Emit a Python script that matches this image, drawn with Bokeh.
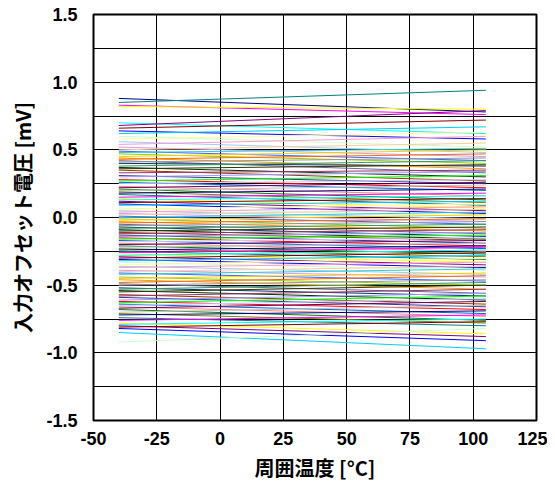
from bokeh.plotting import figure
from bokeh.models import FixedTicker, Range1d, ColumnDataSource, NumeralTickFormatter
from bokeh.embed import file_html
from bokeh.resources import INLINE

# Temperature end points of each trace [°C]
TEMPS = [-40, 105]

# Offset voltage at -40 °C [mV]
VOS_START = [
    0.88, 0.85, 0.83, 0.82, 0.70, 0.68, 0.66, 0.64, 0.62, 0.60,
    0.58, 0.56, 0.54, 0.52, 0.50, 0.49, 0.48, 0.47, 0.45, 0.44,
    0.43, 0.42, 0.41, 0.40, 0.38, 0.37, 0.36, 0.35, 0.33, 0.31,
    0.30, 0.28, 0.27, 0.26, 0.25, 0.23, 0.22, 0.21, 0.20, 0.19,
    0.18, 0.17, 0.15, 0.14, 0.13, 0.12, 0.11, 0.10, 0.09, 0.07,
    0.06, 0.05, 0.04, 0.03, 0.02, 0.01, 0.00, -0.01, -0.02, -0.03,
    -0.04, -0.05, -0.06, -0.07, -0.08, -0.09, -0.10, -0.11, -0.12, -0.13,
    -0.14, -0.15, -0.16, -0.17, -0.18, -0.19, -0.20, -0.21, -0.22, -0.23,
    -0.24, -0.25, -0.26, -0.27, -0.28, -0.29, -0.30, -0.31, -0.32, -0.33,
    -0.35, -0.36, -0.37, -0.39, -0.40, -0.41, -0.42, -0.44, -0.45, -0.46,
    -0.48, -0.49, -0.50, -0.52, -0.53, -0.54, -0.55, -0.57, -0.58, -0.59,
    -0.61, -0.62, -0.63, -0.64, -0.65, -0.66, -0.67, -0.68, -0.70, -0.71,
    -0.72, -0.74, -0.76, -0.78, -0.79, -0.80, -0.81, -0.82, -0.85, -0.92,
]

# Offset voltage at 105 °C [mV]
VOS_END = [
    0.78, 0.94, 0.76, 0.80, 0.62, 0.79, 0.72, 0.58, 0.67, 0.52,
    0.63, 0.48, 0.60, 0.45, 0.55, 0.42, 0.51, 0.40, 0.50, 0.36,
    0.47, 0.33, 0.44, 0.38, 0.42, 0.30, 0.39, 0.27, 0.35, 0.25,
    0.34, 0.22, 0.31, 0.20, 0.28, 0.16, 0.26, 0.13, 0.24, 0.11,
    0.21, 0.09, 0.18, 0.07, 0.16, 0.05, 0.14, 0.03, 0.12, 0.01,
    0.10, -0.01, 0.08, -0.03, 0.06, -0.05, 0.04, -0.08, 0.02, -0.10,
    -0.01, -0.12, -0.03, -0.14, -0.05, -0.16, -0.07, -0.17, -0.09, -0.19,
    -0.11, -0.21, -0.13, -0.23, -0.15, -0.25, -0.17, -0.27, -0.19, -0.29,
    -0.21, -0.31, -0.22, -0.33, -0.24, -0.35, -0.26, -0.37, -0.28, -0.39,
    -0.30, -0.42, -0.33, -0.44, -0.36, -0.47, -0.38, -0.50, -0.41, -0.53,
    -0.43, -0.56, -0.46, -0.58, -0.48, -0.61, -0.50, -0.64, -0.53, -0.66,
    -0.56, -0.68, -0.58, -0.71, -0.60, -0.73, -0.62, -0.76, -0.65, -0.78,
    -0.69, -0.80, -0.72, -0.86, -0.75, -0.88, -0.77, -0.91, -0.97, -0.82,
]

X_TICKS = [-50, -25, 0, 25, 50, 75, 100, 125]
Y_TICKS = [-1.5, -1.0, -0.5, 0.0, 0.5, 1.0, 1.5]
Y_MINOR = [-1.25, -0.75, -0.25, 0.25, 0.75, 1.25]

PALETTE = [
    "#000080", "#008080", "#FF00FF", "#FFFF00", "#00FFFF", "#800080", "#800000", "#0000FF",
    "#00CCFF", "#CCFFCC", "#FFFF99", "#99CCFF", "#FF99CC", "#CC99FF", "#FFCC99", "#3366FF",
    "#33CCCC", "#99CC00", "#FFCC00", "#FF9900", "#FF6600", "#666699", "#969696", "#003366",
    "#339966", "#003300", "#333300", "#993300", "#993366", "#333399", "#9999FF", "#FF0000",
    "#00FF00", "#0066CC", "#CCCCFF", "#FF8080", "#660066", "#008000", "#C0C0C0", "#808000",
]

xs = [list(TEMPS) for _ in VOS_START]
ys = [[a, b] for a, b in zip(VOS_START, VOS_END)]
colors = [PALETTE[i % len(PALETTE)] for i in range(len(VOS_START))]
src = ColumnDataSource(dict(xs=xs, ys=ys, color=colors))

p = figure(width=547, height=485,
           x_range=Range1d(-50, 125), y_range=Range1d(-1.5, 1.5),
           output_backend="svg", toolbar_location=None,
           min_border_left=93, min_border_right=11,
           min_border_top=14, min_border_bottom=65)

p.multi_line(xs="xs", ys="ys", line_color="color", line_width=1, source=src)

p.xaxis.ticker = FixedTicker(ticks=X_TICKS)
p.yaxis.ticker = FixedTicker(ticks=Y_TICKS, minor_ticks=Y_MINOR)
p.xaxis.formatter = NumeralTickFormatter(format="0")
p.yaxis.formatter = NumeralTickFormatter(format="0.0")

p.xgrid.grid_line_color = "black"
p.ygrid.grid_line_color = "black"
p.ygrid.minor_grid_line_color = "black"

p.outline_line_color = "black"
p.outline_line_width = 2
p.background_fill_color = "white"
p.border_fill_color = "white"

for ax in (p.xaxis[0], p.yaxis[0]):
    ax.axis_line_color = None
    ax.major_tick_line_color = None
    ax.minor_tick_line_color = None
    ax.major_tick_out = 0
    ax.major_tick_in = 0
    ax.minor_tick_out = 0
    ax.minor_tick_in = 0
    ax.major_label_text_font = "Liberation Sans"
    ax.major_label_text_font_style = "bold"
    ax.major_label_text_font_size = "18px"
    ax.major_label_text_color = "black"
    ax.axis_label_text_font = "Noto Sans CJK JP"
    ax.axis_label_text_font_style = "bold"
    ax.axis_label_text_color = "black"

p.xaxis.axis_label_text_font_size = "20px"
p.yaxis.axis_label_text_font_size = "20px"
p.xaxis.axis_label = "周囲温度 [°C]"
p.yaxis.axis_label = "入力オフセット電圧 [mV]"
p.xaxis.major_label_standoff = 11
p.yaxis.major_label_standoff = 16
p.xaxis.axis_label_standoff = 5
p.yaxis.axis_label_standoff = 6

open("out.html", "w").write(file_html(p, INLINE))
